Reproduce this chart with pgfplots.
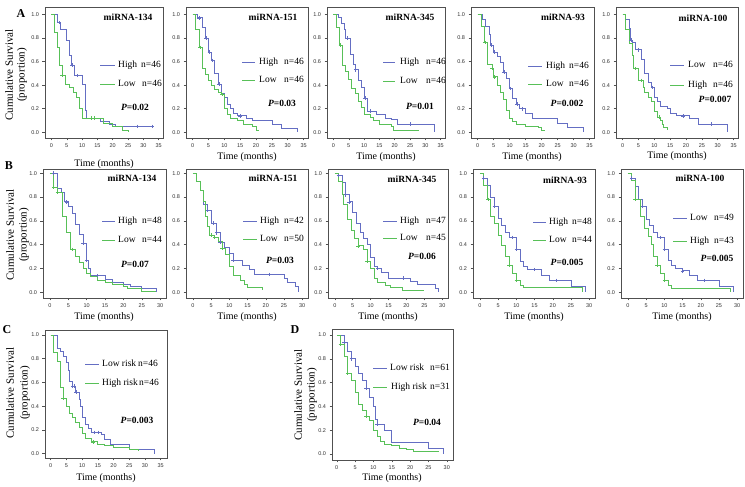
\documentclass[border=0pt]{standalone}
\usepackage{fontspec}
\setmainfont{Liberation Serif}
\setsansfont{Liberation Sans}
\usepackage{pgfplots}
\pgfplotsset{compat=1.18}
\definecolor{kmblue}{RGB}{100,110,195}
\definecolor{kmgreen}{RGB}{88,192,88}
\definecolor{frm}{RGB}{80,80,80}
\newcommand{\lgfont}{\fontsize{9.5}{11}\selectfont}
\newcommand{\legn}[8]{%
  \draw[#4, line width=0.8pt] (#1pt,#3pt) -- (#2pt,#3pt);
  \node[anchor=west, font=\lgfont, inner sep=0pt, text height=6.5pt, text depth=2pt] at (#5pt,#3pt) {#6};
  \node[anchor=west, font=\lgfont, inner sep=0pt, text height=6.5pt, text depth=2pt] at (#7pt,#3pt) {#8};}
\newcommand{\ttl}[3]{\node[font=\fontsize{9.5}{11}\selectfont\bfseries] at (#1pt,#2pt) {#3};}
\newcommand{\pval}[3]{\node[font=\fontsize{9.5}{11}\selectfont\bfseries] at (#1pt,#2pt) {\textit{P}=#3};}
\newcommand{\xl}[2]{\node[font=\fontsize{10}{12}\selectfont] at (#1pt,#2pt) {Time (months)};}
\newcommand{\yl}[3]{%
  \node[font=\fontsize{11}{13}\selectfont, rotate=90] at (#1pt,#3pt) {Cumulative Survival};
  \node[font=\fontsize{11}{13}\selectfont, rotate=90] at (#2pt,#3pt) {(proportion)};}
\pgfplotsset{
  km/.style={
    scale only axis, anchor=south west,
    axis line style={frm, line width=0.7pt},
    tick align=outside, xtick pos=bottom, ytick pos=left,
    major tick length=2.5pt,
    tick style={frm, line width=0.5pt},
    ytick={0,0.2,0.4,0.6,0.8,1.0},
    /pgf/number format/assume math mode=true,
    yticklabel style={/pgf/number format/fixed,/pgf/number format/fixed zerofill,/pgf/number format/precision=1},
    tick label style={font=\fontsize{5.5}{6}\selectfont\sffamily, text=black!80},
  },
  rowA/.style={km, height=131pt, ymin=-0.048, ymax=1.062, xmin=-2.1, xmax=36.4, xtick={0,5,...,35}},
  rowB/.style={km, height=129pt, ymin=-0.048, ymax=1.036, xmin=-1.9, xmax=31.6, xtick={0,5,...,30}},
  hi/.style={kmblue, line width=0.75pt, const plot, mark=none},
  lo/.style={kmgreen, line width=0.75pt, const plot, mark=none},
  hic/.style={kmblue, only marks, mark=+, mark size=1.8pt, mark options={line width=0.6pt}},
  loc/.style={kmgreen, only marks, mark=+, mark size=1.8pt, mark options={line width=0.6pt}},
}
\begin{document}
\begin{tikzpicture}
\path[use as bounding box] (0pt,0pt) rectangle (745pt,487pt);
% ---------------- Row A ----------------
\begin{axis}[rowA, at={(45pt,349pt)}, width=118pt]
\addplot[hi] coordinates {(0,1)(2,0.93)(3,0.87)(5,0.78)(6,0.65)(6.5,0.57)(7.5,0.48)(10,0.41)(11,0.19)(11.5,0.12)(16,0.09)(19,0.07)(21,0.05)(33,0.05)};
\addplot[lo] coordinates {(0,1)(1,0.85)(2,0.72)(2.5,0.57)(3.5,0.48)(4.5,0.41)(6,0.38)(7,0.34)(8,0.30)(9,0.20)(10,0.12)(17,0.08)(20,0.05)(23,0.02)(25,0)};
\addplot[hic] coordinates {(2.5,0.93)(6.8,0.57)(8.5,0.48)(13,0.12)(14,0.12)(28,0.05)(33,0.05)};
\addplot[loc] coordinates {(3.5,0.48)(13,0.12)(14,0.12)};
\end{axis}
\begin{axis}[rowA, at={(186pt,349pt)}, width=122pt]
\addplot[hi] coordinates {(0,1)(1.5,0.97)(3,0.89)(4,0.80)(5,0.68)(6,0.61)(7,0.50)(8,0.41)(9,0.33)(10,0.30)(11,0.24)(12,0.20)(13,0.16)(14,0.14)(17,0.12)(19,0.10)(25,0.07)(28,0.03)(33,0)};
\addplot[lo] coordinates {(0,1)(1,0.87)(2,0.72)(3,0.54)(4,0.49)(5,0.44)(6,0.40)(7,0.36)(8,0.34)(9,0.32)(10,0.20)(11,0.15)(12,0.12)(14,0.10)(16,0.07)(19,0.05)(20,0.02)(21,0.02)};
\addplot[hic] coordinates {(2,0.97)(4.3,0.80)(5.3,0.68)(6.3,0.61)(8.3,0.41)(15,0.14)};
\addplot[loc] coordinates {(2.3,0.72)(9.3,0.32)};
\end{axis}
\begin{axis}[rowA, at={(327pt,349pt)}, width=118pt]
\addplot[hi] coordinates {(0,1)(1.5,0.97)(2.5,0.92)(3.5,0.87)(4,0.80)(5.5,0.66)(6.5,0.58)(7,0.53)(8,0.44)(9,0.38)(10,0.29)(11,0.18)(14,0.15)(17,0.12)(19,0.11)(21,0.07)(33,0)};
\addplot[lo] coordinates {(0,1)(1,0.89)(2,0.74)(3,0.57)(4,0.52)(5,0.45)(6,0.37)(7,0.33)(8,0.26)(9,0.21)(10,0.15)(12,0.13)(13,0.10)(15,0.07)(19,0.05)(19.5,0.02)(28,0.02)};
\addplot[hic] coordinates {(4.5,0.80)(7.2,0.53)(10.3,0.29)(12,0.18)(25,0.07)};
\addplot[loc] coordinates {(2.3,0.74)};
\end{axis}
\begin{axis}[rowA, at={(471pt,349pt)}, width=123pt]
\addplot[hi] coordinates {(0,1)(1.5,0.96)(2.5,0.90)(3.5,0.83)(4,0.74)(5,0.68)(6,0.64)(7,0.59)(8,0.51)(9,0.46)(10,0.37)(11,0.29)(12,0.24)(13,0.20)(15,0.16)(17,0.12)(25,0.08)(28,0.04)(33,0)};
\addplot[lo] coordinates {(0,1)(1,0.90)(2,0.76)(3,0.58)(4.5,0.54)(5,0.47)(6,0.40)(7,0.34)(8,0.28)(9,0.19)(10,0.12)(11,0.09)(12,0.07)(15,0.05)(19,0.04)(20,0.02)(21,0.02)};
\addplot[hic] coordinates {(4.3,0.74)(5.3,0.68)(8.3,0.51)(10.3,0.37)(12.3,0.24)(14,0.20)};
\addplot[loc] coordinates {(2.3,0.76)(4.5,0.54)(5.3,0.47)};
\end{axis}
\begin{axis}[rowA, at={(616pt,349pt)}, width=122pt]
\addplot[hi] coordinates {(0,1)(1,0.96)(2,0.88)(2.5,0.78)(3,0.76)(4,0.70)(6,0.62)(7,0.50)(8,0.42)(9,0.38)(10,0.30)(11,0.26)(12,0.22)(14,0.20)(15,0.16)(17,0.14)(21,0.12)(24,0.07)(33,0)};
\addplot[lo] coordinates {(0,1)(1,0.87)(2,0.75)(3,0.65)(3.5,0.54)(5,0.44)(6.5,0.38)(7,0.34)(8,0.30)(9,0.26)(10,0.18)(11,0.13)(12,0.10)(12.5,0.07)(13,0.04)(14,0.02)};
\addplot[hic] coordinates {(2.7,0.78)(5,0.70)(9.5,0.38)(19,0.14)(28,0.07)};
\addplot[loc] coordinates {(4,0.54)(6,0.44)(11.5,0.13)};
\end{axis}
% ---------------- Row B ----------------
\begin{axis}[rowB, at={(43pt,189pt)}, width=123pt]
\addplot[hi] coordinates {(0,1)(2,0.87)(3,0.84)(4,0.76)(5,0.72)(6,0.66)(7,0.57)(8,0.49)(9,0.41)(10,0.27)(10.5,0.20)(11,0.14)(15,0.11)(17,0.08)(20,0.07)(22,0.05)(25,0.03)(29,0)};
\addplot[lo] coordinates {(0,1)(1,0.88)(2,0.84)(3.5,0.64)(4.5,0.50)(5.5,0.36)(7,0.30)(8,0.25)(9,0.20)(10,0.16)(11,0.13)(13,0.10)(15,0.08)(17,0.07)(20,0.05)(21,0.03)(25,0.01)(29,0.01)};
\addplot[hic] coordinates {(1,1.0)(4.5,0.76)(9,0.41)(10,0.27)(13,0.14)};
\addplot[loc] coordinates {(1,0.88)(2,0.84)(6,0.36)};
\end{axis}
\begin{axis}[rowB, at={(186pt,189pt)}, width=122pt]
\addplot[hi] coordinates {(0,1)(1,0.93)(2,0.86)(3,0.74)(4,0.69)(5,0.58)(6.5,0.50)(7.5,0.42)(8.5,0.38)(10,0.33)(11,0.27)(13.5,0.23)(15.5,0.19)(17,0.15)(25,0.12)(26,0.08)(28,0.05)(29,0)};
\addplot[lo] coordinates {(0,1)(1,0.93)(2,0.86)(3,0.76)(3.5,0.64)(4,0.55)(4.5,0.48)(6,0.46)(7,0.43)(8,0.37)(9,0.32)(10,0.22)(11,0.14)(13,0.10)(14,0.07)(15,0.04)(19,0.02)};
\addplot[hic] coordinates {(4,0.69)(5.5,0.58)(6.5,0.50)(7.5,0.42)(11,0.27)(21,0.15)};
\addplot[loc] coordinates {(5,0.48)(6,0.46)(8,0.37)};
\end{axis}
\begin{axis}[rowB, at={(328pt,189pt)}, width=120pt]
\addplot[hi] coordinates {(0,1)(1,0.98)(2,0.92)(3,0.82)(4,0.76)(5,0.67)(6,0.58)(7,0.50)(8,0.45)(9,0.40)(10,0.29)(11,0.22)(12,0.20)(13,0.17)(15,0.12)(21,0.09)(23,0.07)(28,0.03)(29,0)};
\addplot[lo] coordinates {(0,1)(1,0.93)(2,0.82)(2.5,0.74)(3.5,0.61)(4.5,0.52)(5.5,0.45)(6.5,0.39)(8,0.36)(9,0.26)(10,0.20)(11,0.12)(12,0.08)(14,0.06)(15.5,0.04)(19,0.02)(25,0.02)};
\addplot[hic] coordinates {(1,0.98)(3,0.82)(4,0.76)(12,0.20)(19,0.12)};
\addplot[loc] coordinates {(6.5,0.39)(9,0.26)};
\end{axis}
\begin{axis}[rowB, at={(473pt,189pt)}, width=122pt]
\addplot[hi] coordinates {(0,1)(1,0.96)(2,0.90)(3,0.80)(4,0.72)(5,0.62)(6,0.56)(7,0.50)(8,0.46)(10,0.36)(11,0.26)(12,0.22)(13,0.19)(17,0.14)(19,0.10)(25,0.05)(29,0)};
\addplot[lo] coordinates {(0,1)(1,0.90)(2,0.78)(3,0.64)(4,0.58)(5,0.48)(6,0.39)(7,0.30)(8,0.23)(9,0.16)(10,0.10)(11,0.06)(12,0.04)(28,0)};
\addplot[hic] coordinates {(1,0.96)(4,0.72)(9,0.46)(10,0.36)(15,0.19)(21,0.10)};
\addplot[loc] coordinates {(2.3,0.78)(8,0.23)(10,0.10)};
\end{axis}
\begin{axis}[rowB, at={(621pt,189pt)}, width=122pt]
\addplot[hi] coordinates {(0,1)(1,0.96)(2,0.89)(3,0.78)(4,0.72)(5,0.61)(6,0.56)(7,0.50)(8,0.46)(10,0.36)(11,0.27)(12,0.23)(13,0.20)(15,0.18)(17,0.14)(19,0.10)(25,0.05)(29,0)};
\addplot[lo] coordinates {(0,1)(1,0.94)(2,0.78)(3.5,0.64)(4.5,0.54)(5.5,0.47)(6.5,0.40)(7,0.30)(8,0.23)(9,0.16)(10,0.10)(11,0.06)(12,0.03)(28,0)};
\addplot[hic] coordinates {(1,0.96)(4,0.72)(9,0.46)(10,0.36)(15,0.18)(21,0.10)};
\addplot[loc] coordinates {(2,0.78)(8,0.23)(10,0.10)};
\end{axis}
% ---------------- Row C / D ----------------
\begin{axis}[km, at={(45pt,29pt)}, width=122pt, height=128pt, ymin=-0.036, ymax=1.042, xmin=-1.8, xmax=37, xtick={0,5,...,35}]
\addplot[hi] coordinates {(0,1)(2,0.89)(3,0.86)(4,0.82)(5,0.77)(5.5,0.70)(6,0.61)(7,0.57)(8,0.52)(9,0.46)(9.5,0.40)(10,0.31)(11,0.25)(12,0.21)(13,0.18)(16,0.16)(17,0.12)(19,0.08)(25,0.04)(33,0)};
\addplot[lo] coordinates {(0,1)(1,0.85)(2,0.78)(3,0.56)(4,0.47)(5,0.40)(6,0.34)(7,0.31)(8,0.26)(9,0.22)(10,0.17)(11,0.13)(13,0.10)(15,0.08)(17,0.07)(20,0.05)(25,0.04)(28,0.02)};
\addplot[hic] coordinates {(7,0.57)(7.5,0.57)(8,0.52)(14,0.18)(15,0.18)};
\addplot[loc] coordinates {(4,0.47)(13.5,0.10)};
\end{axis}
\begin{axis}[km, at={(332pt,27pt)}, width=121pt, height=131pt, ymin=-0.05, ymax=1.05, xmin=-1.3, xmax=31.7, xtick={0,5,...,30}]
\addplot[hi] coordinates {(0,1)(2,0.94)(3,0.86)(4,0.80)(5,0.74)(6,0.68)(7,0.62)(8,0.55)(9,0.48)(10,0.40)(10.5,0.29)(11,0.25)(13,0.20)(15,0.10)(25,0.05)(29,0)};
\addplot[lo] coordinates {(0,1)(1,0.92)(2,0.82)(3,0.68)(4,0.62)(5,0.52)(6,0.42)(7,0.37)(8,0.32)(9,0.28)(10,0.20)(11,0.15)(12,0.11)(13,0.08)(15,0.07)(17,0.05)(19,0.04)(21,0.02)(28,0.02)};
\addplot[hic] coordinates {(2,0.94)(4,0.80)(8,0.55)(11,0.25)};
\addplot[loc] coordinates {(1,0.92)(3,0.68)(8,0.32)};
\end{axis}
% ---------------- Texts ----------------
\node[font=\fontsize{12}{14}\selectfont\bfseries] at (21pt,473pt) {A};
\node[font=\fontsize{12}{14}\selectfont\bfseries] at (9pt,321pt) {B};
\node[font=\fontsize{12}{14}\selectfont\bfseries] at (7pt,157pt) {C};
\node[font=\fontsize{12}{14}\selectfont\bfseries] at (295pt,157pt) {D};
\yl{9}{22}{412}
\yl{10}{24}{252}
\yl{10}{25}{94}
\yl{298}{312}{92}
\ttl{128}{470}{miRNA-134}
\ttl{273}{470}{miRNA-151}
\ttl{410}{470}{miRNA-345}
\ttl{563}{470}{miRNA-93}
\ttl{703}{469}{miRNA-100}
\ttl{132}{309}{miRNA-134}
\ttl{273}{309}{miRNA-151}
\ttl{412}{308}{miRNA-345}
\ttl{565}{307}{miRNA-93}
\ttl{700}{309}{miRNA-100}
\xl{104}{323}\xl{247}{330}\xl{386}{330}\xl{532}{330}\xl{677}{331}
\xl{104}{170}\xl{247}{170}\xl{388}{170}\xl{534}{170}\xl{682}{170}
\xl{106}{9}\xl{392}{9}
% legends row A
\legn{100}{115}{422}{kmblue}{118}{High}{141}{n=46}
\legn{100}{115}{403}{kmgreen}{118}{Low}{142}{n=46}
\legn{242}{255}{425}{kmblue}{259}{High}{284}{n=46}
\legn{242}{255}{407}{kmgreen}{259}{Low}{284}{n=46}
\legn{383}{395}{425}{kmblue}{400}{High}{426}{n=46}
\legn{383}{395}{406}{kmgreen}{400}{Low}{426}{n=46}
\legn{528}{542}{421}{kmblue}{546}{High}{569}{n=46}
\legn{528}{542}{403}{kmgreen}{546}{Low}{569}{n=46}
\legn{670}{684}{422}{kmblue}{688}{Low}{713}{n=46}
\legn{670}{684}{402}{kmgreen}{688}{High}{713}{n=46}
% legends row B
\legn{102}{115}{266}{kmblue}{118}{High}{142}{n=48}
\legn{102}{115}{247}{kmgreen}{118}{Low}{142}{n=44}
\legn{243}{257}{266}{kmblue}{260}{High}{284}{n=42}
\legn{243}{257}{248}{kmgreen}{260}{Low}{284}{n=50}
\legn{383}{397}{266}{kmblue}{400}{High}{426}{n=47}
\legn{383}{397}{249}{kmgreen}{400}{Low}{426}{n=45}
\legn{533}{546}{265}{kmblue}{549}{High}{572}{n=48}
\legn{533}{546}{247}{kmgreen}{549}{Low}{572}{n=44}
\legn{673}{687}{269}{kmblue}{690}{Low}{714}{n=49}
\legn{673}{687}{246}{kmgreen}{690}{High}{714}{n=43}
% legends C D
\legn{85}{99}{123}{kmblue}{102}{Low risk}{138}{n=46}
\legn{85}{99}{104}{kmgreen}{102}{High risk}{139}{n=46}
\legn{373}{387}{119}{kmblue}{390}{Low risk}{430}{n=61}
\legn{373}{387}{100}{kmgreen}{391}{High risk}{430}{n=31}
% p-values
\pval{135}{380}{0.02}
\pval{282}{384}{0.03}
\pval{420}{381}{0.01}
\pval{567}{384}{0.002}
\pval{715}{388}{0.007}
\pval{135}{223}{0.07}
\pval{280}{227}{0.03}
\pval{422}{231}{0.06}
\pval{567}{225}{0.005}
\pval{717}{229}{0.005}
\pval{137}{67}{0.003}
\pval{427}{65}{0.04}
\end{tikzpicture}
\end{document}
